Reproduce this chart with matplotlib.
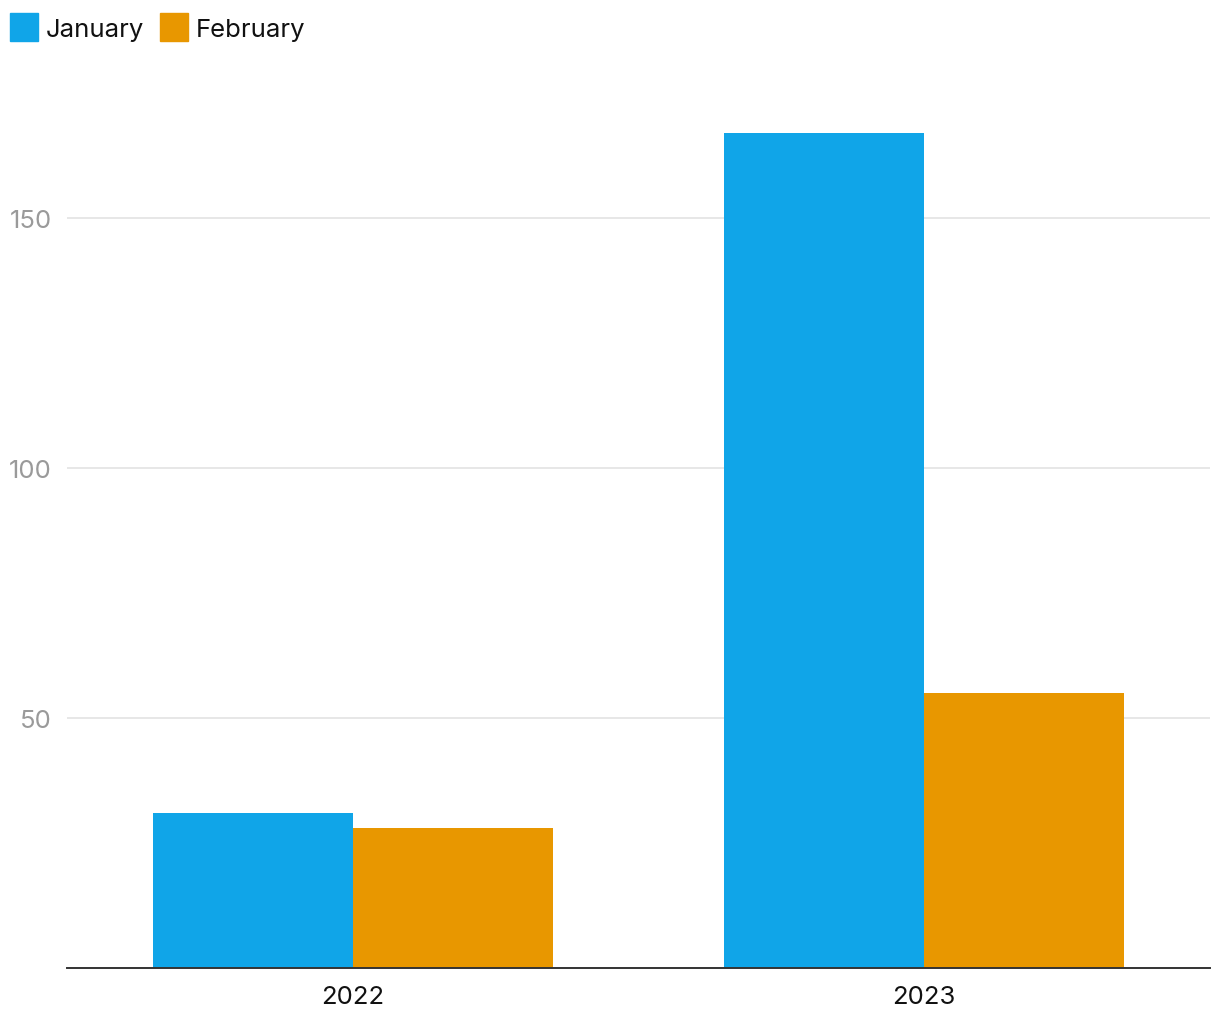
import matplotlib
matplotlib.use("Agg")
import matplotlib.pyplot as plt
from matplotlib.patches import Rectangle
import numpy as np

plt.rcParams['font.family'] = ['Inter', 'DejaVu Sans']

years = ["2022", "2023"]
series_names = ["January", "February"]
january = [31, 167]
february = [28, 55]
colors = ["#10A5E8", "#E89700"]

fig = plt.figure(figsize=(12.2, 10.2), dpi=100)
ax = fig.add_axes([67 / 1220, 51 / 1020, (1210 - 67) / 1220, 900 / 1020])

x = np.arange(len(years))
w = 0.35
ax.bar(x - w / 2, january, width=w, color=colors[0], zorder=3)
ax.bar(x + w / 2, february, width=w, color=colors[1], zorder=3)

ax.set_xlim(-0.5, 1.5)
ax.set_ylim(0, 180)
ax.set_xticks(x)
ax.set_xticklabels(years, fontsize=18.5, color="#111111")
ax.set_yticks([50, 100, 150])
ax.tick_params(axis="y", length=0, pad=11, labelsize=18.5, labelcolor="#9a9a9a")
ax.tick_params(axis="x", length=0, pad=12)
ax.yaxis.grid(True, color="#e3e3e3", linewidth=1.2, zorder=0)

for s in ["top", "right", "left"]:
    ax.spines[s].set_visible(False)
ax.spines["bottom"].set_color("#333333")
ax.spines["bottom"].set_linewidth(1.4)
ax.spines["bottom"].set_zorder(4)

# legend drawn in figure pixels
for lx, name, c in zip([10, 160], series_names, colors):
    fig.patches.append(Rectangle((lx / 1220, (1020 - 42) / 1020), 28 / 1220, 28 / 1020,
                                 transform=fig.transFigure, color=c))
    fig.text((lx + 36) / 1220, (1020 - 30) / 1020, name, fontsize=18.5,
             color="#111111", va="center", ha="left")

fig.savefig("out.png", dpi=100)
